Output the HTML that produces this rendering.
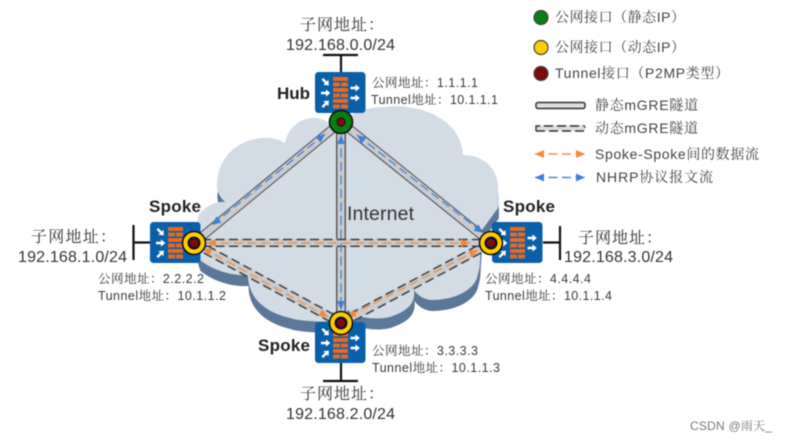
<!DOCTYPE html>
<html><head><meta charset="utf-8"><style>
html,body{margin:0;padding:0;background:#fff;width:786px;height:441px;overflow:hidden}
svg{display:block;filter:blur(.4px)}
text{font-family:"Liberation Sans","Noto Serif CJK SC",serif;fill:#444}
.s{font-size:12.5px;fill:#3a3a3a}.m{font-size:16px;fill:#333}.l{font-size:14px}
.b{font-size:17px;font-weight:bold;fill:#222;font-family:"Liberation Sans",sans-serif}
.bar{stroke:#111;stroke-width:2.2;fill:none}
.band{stroke:#c9cbce;stroke-width:8;fill:none}
.edge{stroke:#4a4a4a;stroke-width:9;fill:none}
.edgev{stroke:#5c5c5c;stroke-width:10;fill:none}
.inner{stroke:#c9cbce;stroke-width:7;fill:none}
.dd{stroke:#3d3d3d;stroke-width:1.5;stroke-dasharray:9 4.500;fill:none}
.or{stroke:#f0924a;stroke-width:1.400;stroke-dasharray:9 4.500;fill:none;marker-start:url(#oa);marker-end:url(#oa)}
.bl{stroke:#4a88dc;stroke-width:1.400;stroke-dasharray:9 4.500;fill:none;marker-start:url(#ba);marker-end:url(#ba)}
</style></head><body>
<svg width="786" height="441" viewBox="0 0 786 441" xmlns="http://www.w3.org/2000/svg">
<defs>
<marker id="oa" markerUnits="userSpaceOnUse" markerWidth="10" markerHeight="8" refX="9" refY="4" orient="auto-start-reverse"><path d="M0 0L9 4L0 8z" fill="#f08a3c"/></marker>
<marker id="ba" markerUnits="userSpaceOnUse" markerWidth="10" markerHeight="8" refX="9" refY="4" orient="auto-start-reverse"><path d="M0 0L9 4L0 8z" fill="#3f7fd6"/></marker>
<path id="ar" d="M-4.500 -1.200H0.500V-3.600L4.800 0L0.500 3.600V1.200H-4.500z" fill="#fff"/>
<g id="dev">
<rect x="0" y="0" width="50.500" height="41" rx="3.500" fill="#0a5fa9"/>
<g fill="#e8691f">
<rect x="18" y="5" width="15" height="4"/>
<rect x="18" y="10.500" width="7" height="4"/><rect x="26" y="10.500" width="7" height="4"/>
<rect x="18" y="16" width="15" height="4"/>
<rect x="18" y="21.500" width="7" height="4"/><rect x="26" y="21.500" width="7" height="4"/>
<rect x="18" y="27" width="15" height="4"/>
<rect x="18" y="32.500" width="7" height="4"/><rect x="26" y="32.500" width="7" height="4"/>
</g>
<use href="#ar" transform="translate(10.500,10) rotate(45)"/>
<use href="#ar" transform="translate(10.500,21)"/>
<use href="#ar" transform="translate(10.500,32) rotate(-45)"/>
<use href="#ar" transform="translate(40,16)"/>
<use href="#ar" transform="translate(40,26)"/>
</g>
<path id="cl" d="M198,216 C205,206 216,201 225,202 C219,196 216,190 217,183 C218,160 235,140 262,138 C270,137 278,139 285,143 C288,128 300,118 313,118 C320,118 326,120 330,124 L352,115 C360,110 372,107 385,107 C400,105 405,107 412,108 C440,112 462,130 463,155 C485,155 498,170 498,187 C498,195 499,203 498,208 L482,230 L480,262 C480,268 478,274 477,278 C472,292 452,300 432,300 C425,300 418,296 414,290 C416,305 405,312 390,317 C378,320 365,318 353,315 L348,310 L340,321 C332,322 300,322 290,318 C268,313 248,300 248,275 C235,276 215,272 200,260 L195,245 Z"/>
<g id="gc"><circle r="11.500" fill="#0a7d14" stroke="#111" stroke-width="1.600"/><circle r="4.200" fill="#7c0a0a" stroke="#111" stroke-width=".8"/></g>
<g id="yc"><circle r="11.500" fill="#ffcc00" stroke="#111" stroke-width="1.600"/><circle r="6.500" fill="#111"/><circle r="4.300" fill="#7c0a0a"/></g>
</defs>

<use href="#cl" fill="#5b7799" transform="translate(0.500,11)"/>
<use href="#cl" fill="#d3dbe5"/>

<!-- diagonal dynamic tunnels -->
<line class="band" x1="194" y1="243" x2="341" y2="323"/>
<line class="dd" x1="196" y1="239.500" x2="343" y2="319.500"/>
<line class="dd" x1="192" y1="246.500" x2="339" y2="326.500"/>
<line class="band" x1="491" y1="243" x2="341" y2="323"/>
<line class="dd" x1="489" y1="239.500" x2="339" y2="319.500"/>
<line class="dd" x1="493" y1="246.500" x2="343" y2="326.500"/>
<line class="or" x1="203" y1="248" x2="328" y2="317"/>
<line class="or" x1="478" y1="250" x2="347" y2="317"/>

<!-- static tunnels -->
<line class="edge" x1="341" y1="122" x2="194" y2="243"/><line class="inner" x1="341" y1="122" x2="194" y2="243"/>
<line class="edge" x1="341" y1="122" x2="491" y2="243"/><line class="inner" x1="341" y1="122" x2="491" y2="243"/>
<line class="edgev" x1="341" y1="122" x2="341" y2="323"/><line class="inner" x1="341" y1="122" x2="341" y2="323"/>

<!-- horizontal dynamic tunnel crosses over the vertical one -->
<line class="band" x1="194" y1="243" x2="491" y2="243"/>
<line class="dd" x1="202" y1="239.500" x2="482" y2="239.500"/>
<line class="dd" x1="202" y1="246.300" x2="482" y2="246.300"/>
<line class="or" x1="207" y1="243" x2="470" y2="243"/>

<line class="bl" x1="325" y1="134" x2="212" y2="225"/>
<line class="bl" x1="357" y1="135" x2="483" y2="233"/>
<line class="bl" x1="341" y1="135" x2="341" y2="310"/>

<!-- devices -->
<use href="#dev" x="315" y="72"/>
<use href="#dev" x="150" y="222"/>
<use href="#dev" x="492" y="222"/>
<use href="#dev" x="315" y="322"/>
<use href="#gc" x="341" y="122"/>
<use href="#yc" x="194" y="243"/>
<use href="#yc" x="491" y="243"/>
<use href="#yc" x="341" y="323"/>

<!-- subnet bars -->
<path class="bar" d="M323 55H358M341 55V72"/>
<path class="bar" d="M133.500 225V260M133.500 242.500H150"/>
<path class="bar" d="M560 226V260M543 242.500H560"/>
<path class="bar" d="M341 363V381M323 381H358"/>

<!-- labels -->
<text class="b" x="277" y="99" textLength="33">Hub</text>
<text class="b" x="149" y="212" textLength="52">Spoke</text>
<text class="b" x="503" y="212" textLength="52">Spoke</text>
<text class="b" x="258" y="351" textLength="52">Spoke</text>
<text x="347" y="220" style="font-size:19.500px;fill:#333" textLength="67">Internet</text>

<text class="m" x="300" y="30" textLength="84">子网地址：</text>
<text class="m" x="286" y="50" textLength="109">192.168.0.0/24</text>
<text class="m" x="31" y="242" textLength="85">子网地址：</text>
<text class="m" x="18" y="262" textLength="109">192.168.1.0/24</text>
<text class="m" x="578" y="243" textLength="84">子网地址：</text>
<text class="m" x="564" y="262" textLength="109">192.168.3.0/24</text>
<text class="m" x="300" y="399" textLength="84">子网地址：</text>
<text class="m" x="286" y="419" textLength="109">192.168.2.0/24</text>

<text class="s" x="372" y="87" textLength="106">公网地址：1.1.1.1</text>
<text class="s" x="371" y="104" textLength="127">Tunnel地址：10.1.1.1</text>
<text class="s" x="98" y="283" textLength="106">公网地址：2.2.2.2</text>
<text class="s" x="98" y="300" textLength="128">Tunnel地址：10.1.1.2</text>
<text class="s" x="485" y="283" textLength="106">公网地址：4.4.4.4</text>
<text class="s" x="485" y="300" textLength="127">Tunnel地址：10.1.1.4</text>
<text class="s" x="372" y="355" textLength="106">公网地址：3.3.3.3</text>
<text class="s" x="372" y="372" textLength="128">Tunnel地址：10.1.1.3</text>

<!-- legend -->
<circle cx="541" cy="17.500" r="7" fill="#0a7d14" stroke="#444" stroke-width="1.200"/>
<circle cx="541" cy="47.500" r="7" fill="#ffcc00" stroke="#444" stroke-width="1.200"/>
<circle cx="541" cy="73.500" r="7" fill="#7c0a0a" stroke="#444" stroke-width="1.200"/>
<text class="l" x="555" y="22" textLength="130">公网接口（静态IP）</text>
<text class="l" x="555" y="52" textLength="130">公网接口（动态IP）</text>
<text class="l" x="555" y="78" textLength="174">Tunnel接口（P2MP类型）</text>
<rect x="536" y="102.500" width="49" height="6" rx="2" fill="#ddd" stroke="#333" stroke-width="1.500"/>
<rect x="536" y="125" width="49" height="6" fill="#ddd"/>
<path d="M536 131V126H585M536 131H585V127" fill="none" stroke="#333" stroke-width="1.400" stroke-dasharray="9 4"/>
<text class="l" x="595" y="110" textLength="103">静态mGRE隧道</text>
<text class="l" x="595" y="133" textLength="103">动态mGRE隧道</text>
<line class="or" x1="535" y1="154" x2="585" y2="154"/>
<line class="bl" x1="535" y1="177.500" x2="585" y2="177.500"/>
<text class="l" x="595" y="159" textLength="164">Spoke-Spoke间的数据流</text>
<text class="l" x="596" y="182" textLength="117">NHRP协议报文流</text>

<text x="690" y="430" style="font-size:12px;fill:#777" textLength="82">CSDN @雨天_</text>
</svg>
</body></html>
